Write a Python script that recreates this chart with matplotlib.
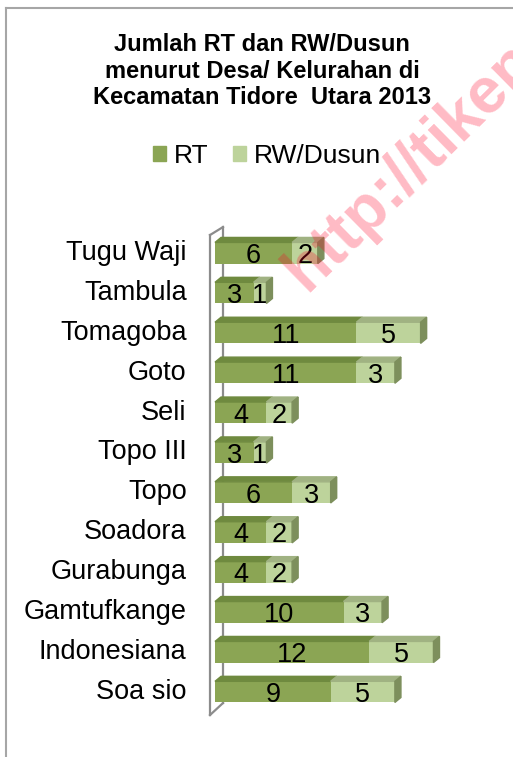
import matplotlib
matplotlib.use("Agg")
import matplotlib.pyplot as plt
from matplotlib.patches import Polygon, Patch
from matplotlib.lines import Line2D

plt.rcParams['font.family'] = ['Liberation Sans', 'DejaVu Sans']

desa = ["Tugu Waji", "Tambula", "Tomagoba", "Goto", "Seli", "Topo III", "Topo",
        "Soadora", "Gurabunga", "Gamtufkange", "Indonesiana", "Soa sio"]
rt = [6, 3, 11, 11, 4, 3, 6, 4, 4, 10, 12, 9]
rw = [2, 1, 5, 3, 2, 1, 3, 2, 2, 3, 5, 5]

W, H = 513, 757
fig = plt.figure(figsize=(W / 100, H / 100), dpi=100)

# pixel mapping: value 0 at x=215, 12.85 px per unit; rows 39.9 px apart, first at y=253
px_unit = 12.85
row = 39.9
x0, x1 = -1.2, 20
y_top, y_bot = -0.8, 11.8
left = 215 + x0 * px_unit
ax = fig.add_axes([left / W, 1 - (253 + y_bot * row) / H,
                   (x1 - x0) * px_unit / W, (y_bot - y_top) * row / H])
ax.set_xlim(x0, x1)
ax.set_ylim(y_bot, y_top)
ax.axis('off')

c_rt, c_rt_top, c_rt_side = '#8ba554', '#6f8a3f', '#6c8540'
c_rw, c_rw_top, c_rw_side = '#bdd39b', '#a0b282', '#7d8f5c'
h = 0.53
dx, dy = 0.47, 0.125

# wall
wall = '#8c8c8c'
ax.plot([-0.39, -0.39], [-0.45, 11.58], color=wall, lw=1.6, zorder=1)
ax.plot([0.62, 0.62], [-0.65, 11.28], color=wall, lw=1.6, zorder=1)
ax.plot([-0.39, 0.62], [-0.45, -0.65], color=wall, lw=1.6, zorder=1)
ax.plot([-0.39, 0.62], [11.58, 11.28], color=wall, lw=1.6, zorder=1)

ys = list(range(len(desa)))
ax.barh(ys, rt, height=h, color=c_rt, zorder=3)
ax.barh(ys, rw, left=rt, height=h, color=c_rw, zorder=3)

for i in ys:
    a, b = rt[i], rt[i] + rw[i]
    yt = i - h / 2
    ax.add_patch(Polygon([(0, yt), (a, yt), (a + dx, yt - dy), (dx, yt - dy)],
                         closed=True, color=c_rt_top, zorder=3))
    ax.add_patch(Polygon([(a, yt), (b, yt), (b + dx, yt - dy), (a + dx, yt - dy)],
                         closed=True, color=c_rw_top, zorder=3))
    ax.add_patch(Polygon([(b, yt), (b + dx, yt - dy), (b + dx, i + h / 2 - dy), (b, i + h / 2)],
                         closed=True, color=c_rw_side, zorder=3))
    ax.text(a / 2, i + 0.08, str(rt[i]), ha='center', va='center', fontsize=19.5, zorder=5)
    ax.text(a + rw[i] / 2, i + 0.08, str(rw[i]), ha='center', va='center', fontsize=19.5, zorder=5)
    ax.text(-2.2, i, desa[i], ha='right', va='center', fontsize=19.5, zorder=5)

fig.text(262 / W, 1 - 71 / H,
         "Jumlah RT dan RW/Dusun\nmenurut Desa/ Kelurahan di\nKecamatan Tidore  Utara 2013",
         ha='center', va='center', fontsize=17, fontweight='bold', linespacing=1.2)

handles = [Patch(color=c_rt, label='RT'), Patch(color=c_rw, label='RW/Dusun')]
fig.legend(handles=handles, loc='center', bbox_to_anchor=(267 / W, 1 - 156 / H), ncol=2,
           frameon=False, fontsize=19, handlelength=0.5, handleheight=0.5,
           handletextpad=0.3, columnspacing=0.9)

# outer border
border = '#a6a6a6'
fig.add_artist(Line2D([5.5 / W, 5.5 / W], [0, 1 - 8 / H], color=border, lw=1.5))
fig.add_artist(Line2D([5.5 / W, 1], [1 - 8 / H, 1 - 8 / H], color=border, lw=1.5))

# watermark
fig.text(411 / W, 1 - 166 / H, "http://tikep", rotation=44.5, rotation_mode='anchor',
         ha='center', va='center', fontsize=46, fontweight='bold',
         color=(1.0, 0.0, 0.15), alpha=0.27, zorder=10)

fig.savefig("out.png", dpi=100)
